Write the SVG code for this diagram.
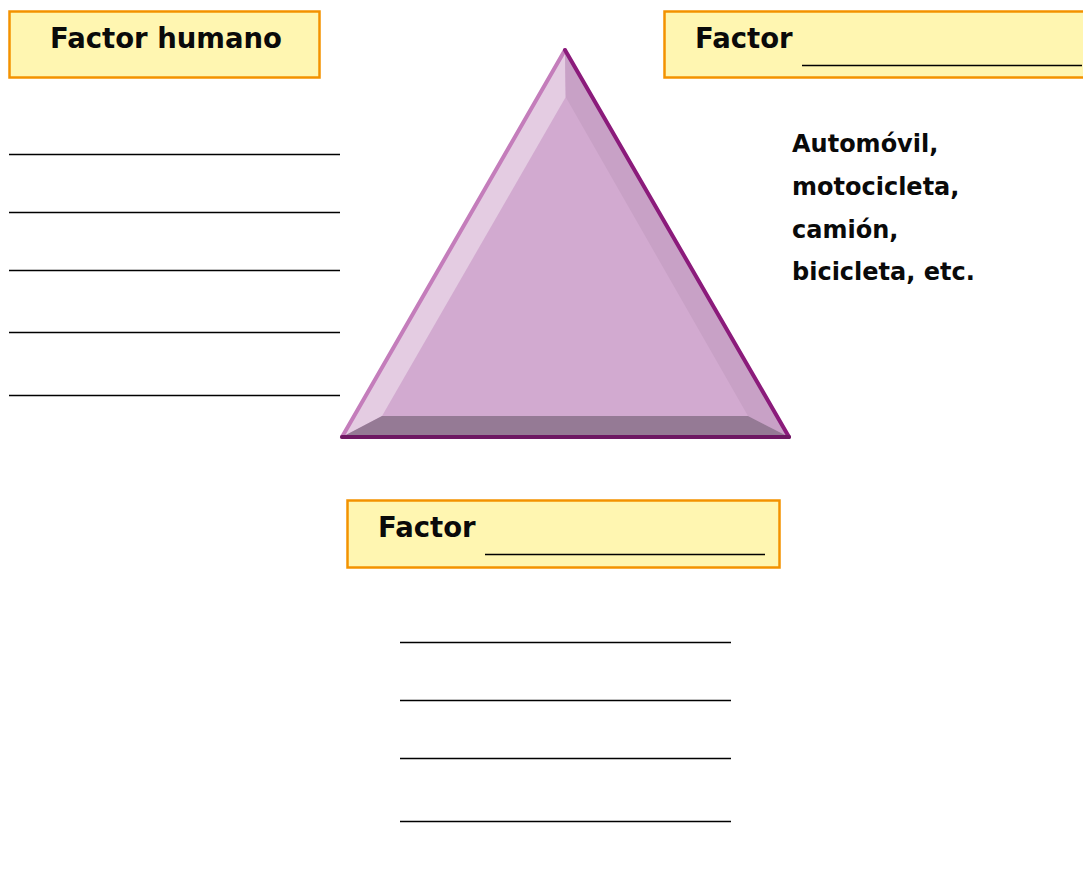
<svg xmlns="http://www.w3.org/2000/svg" width="1083" height="880" viewBox="0 0 1083 880">
<style>
.box{fill:#FFF6B1;stroke:#F39200;stroke-width:2.5}
.t{font-family:"DejaVu Sans",sans-serif;font-weight:bold;fill:#0a0a0a}
.h{font-size:27.5px}
.b{font-size:24px}
.ln{stroke:#000;stroke-width:1.3}
</style>
<rect width="1083" height="880" fill="#fff"/>
<g id="triangle">
<polygon points="565,50 342,437 789,437" fill="#D2AAD0"/>
<polygon points="565,50 565.7,97 382,416 342,437" fill="#E4CCE2"/>
<polygon points="565,50 789,437 748,416 565.7,97" fill="#C8A1C6"/>
<polygon points="342,437 382,416 748,416 789,437" fill="#957A95"/>
<line x1="565" y1="50" x2="342" y2="437" stroke="#C47DBB" stroke-width="4" stroke-linecap="round"/>
<line x1="565" y1="50" x2="789" y2="437" stroke="#8B1B7B" stroke-width="4" stroke-linecap="round"/>
<line x1="342" y1="437" x2="789" y2="437" stroke="#6E1863" stroke-width="4" stroke-linecap="round"/>
</g>
<g id="factor-humano">
<rect class="box" x="9.5" y="11.5" width="310" height="66"/>
<text class="t h" x="166" y="48" text-anchor="middle">Factor humano</text>
</g>
<g id="factor-top-right">
<rect class="box" x="664.5" y="11.5" width="430" height="66"/>
<text class="t h" x="695" y="48">Factor</text>
<line class="ln" x1="802" y1="65.5" x2="1082" y2="65.5"/>
</g>
<g id="factor-bottom">
<rect class="box" x="347.5" y="500.5" width="432" height="67"/>
<text class="t h" x="378" y="537">Factor</text>
<line class="ln" x1="485" y1="554.5" x2="765" y2="554.5"/>
</g>
<g id="vehicles">
<text class="t b" x="792" y="152">Automóvil,</text>
<text class="t b" x="792" y="195">motocicleta,</text>
<text class="t b" x="792" y="238">camión,</text>
<text class="t b" x="792" y="280">bicicleta, etc.</text>
</g>
<g id="left-lines">
<line class="ln" x1="9" y1="154.5" x2="340" y2="154.5"/>
<line class="ln" x1="9" y1="212.5" x2="340" y2="212.5"/>
<line class="ln" x1="9" y1="270.5" x2="340" y2="270.5"/>
<line class="ln" x1="9" y1="332.5" x2="340" y2="332.5"/>
<line class="ln" x1="9" y1="395.5" x2="340" y2="395.5"/>
</g>
<g id="bottom-lines">
<line class="ln" x1="400" y1="642.5" x2="731" y2="642.5"/>
<line class="ln" x1="400" y1="700.5" x2="731" y2="700.5"/>
<line class="ln" x1="400" y1="758.5" x2="731" y2="758.5"/>
<line class="ln" x1="400" y1="821.5" x2="731" y2="821.5"/>
</g>
</svg>
